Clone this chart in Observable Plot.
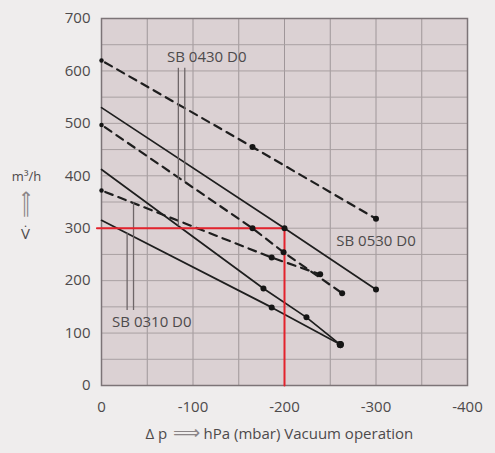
<!DOCTYPE html>
<html><head><meta charset="utf-8">
<script src="https://cdn.jsdelivr.net/npm/d3@7"></script>
<script src="https://cdn.jsdelivr.net/npm/@observablehq/plot@0.6"></script>
<style>html,body{margin:0;padding:0;background:#efeded;}</style>
</head><body><div id="chart"></div>
<script>
// tick labels
const xTicks = [0, -100, -200, -300, -400];
const yTicks = [0, 100, 200, 300, 400, 500, 600, 700];

// SB 0530 D0
const dp530dash = [0, -165, -300];
const q530dash  = [620, 455, 318];
const dp530     = [0, -200, -300];
const q530      = [530, 300, 183];
// SB 0430 D0
const dp430dash = [0, -165, -199, -263];
const q430dash  = [497, 300, 254, 176];
const dp430     = [0, -177, -224, -261];
const q430      = [412, 185, 130, 78];
// SB 0310 D0
const dp310dash = [0, -186, -239];
const q310dash  = [372, 244, 212];
const dp310     = [0, -186, -261];
const q310      = [315, 149, 78];

// operating point example
const opDp = -200;
const opQ = 300;

const models = ["SB 0530 D0", "SB 0430 D0", "SB 0310 D0"];
const labelDp = [-300, -115, -55];
const labelQ  = [275, 626, 120];

function toRows(model, dashed, dps, qs) {
  return dps.map((dp, i) => ({model, dashed, dp, q: qs[i], first: i === 0, last: i === dps.length - 1}));
}
const series = [
  toRows(models[0], true, dp530dash, q530dash),
  toRows(models[0], false, dp530, q530),
  toRows(models[1], true, dp430dash, q430dash),
  toRows(models[1], false, dp430, q430),
  toRows(models[2], true, dp310dash, q310dash),
  toRows(models[2], false, dp310, q310)
];
const dashedRows = series.filter(s => s[0].dashed);
const solidRows = series.filter(s => !s[0].dashed);
const dots = series.flat().filter(d => d.dashed || !d.first);

// leader lines for labels
const leaders = [
  {x: -84, y1: 605, y2: 304},
  {x: -91, y1: 605, y2: 388},
  {x: -28, y1: 143, y2: 290},
  {x: -35, y1: 143, y2: 348}
];

const textColor = "#4d4a4b";
const arrowColor = "#8a8486";
const marks = [
  Plot.frame({fill: "#dbd1d3"}),
  Plot.gridX(d3.range(0, -401, -50), {stroke: "#9f9699", strokeOpacity: 1}),
  Plot.gridY(d3.range(0, 701, 50), {stroke: "#a9a0a2", strokeOpacity: 1}),
  Plot.frame({stroke: "#7c7477", strokeWidth: 1.5}),
  Plot.axisX(xTicks, {tickSize: 0, tickPadding: 16, label: null, fontSize: 15, fill: textColor,
    tickFormat: d => d === 0 ? "0" : "-" + Math.abs(d)}),
  Plot.axisY(yTicks, {tickSize: 0, tickPadding: 11, label: null, fontSize: 15, fill: textColor}),
  ...dashedRows.map(rows => Plot.line(rows, {x: "dp", y: "q", stroke: "#1e1e1e", strokeWidth: 2.2, strokeDasharray: "8,6", strokeDashoffset: -4})),
  ...solidRows.map(rows => Plot.line(rows, {x: "dp", y: "q", stroke: "#1e1e1e", strokeWidth: 1.7})),
  Plot.ruleX(leaders, {x: "x", y1: "y1", y2: "y2", stroke: "#6e6668", strokeWidth: 1.3}),
  Plot.line([{x: 5, y: opQ}, {x: opDp, y: opQ}, {x: opDp, y: 0}], {x: "x", y: "y", stroke: "#e3232d", strokeWidth: 2}),
  Plot.dot(dots, {x: "dp", y: "q", fill: "#151515", stroke: "none",
    r: d => d.first ? 2 : (d.last && d.q < 100 ? 5 : 3.6)}),
  Plot.text(models, {x: (d, i) => labelDp[i], y: (d, i) => labelQ[i], text: d => d,
    fontSize: 15, fill: textColor}),
  Plot.text(["m³/h"], {frameAnchor: "left", textAnchor: "middle", dx: -75, dy: -25, fontSize: 13, fill: textColor}),
  Plot.text(["⟹"], {frameAnchor: "left", textAnchor: "middle", dx: -76, dy: 2, fontSize: 19, rotate: -90, fill: arrowColor, fontFamily: "DejaVu Sans"}),
  Plot.text(["V̇"], {frameAnchor: "left", textAnchor: "middle", dx: -76, dy: 32, fontSize: 15, fill: textColor}),
  Plot.text(["Δ p"], {frameAnchor: "bottom", textAnchor: "start", dx: -139, dy: 53, fontSize: 15, fill: textColor}),
  Plot.text(["⟹"], {frameAnchor: "bottom", textAnchor: "middle", dx: -98, dy: 53, fontSize: 19, fill: arrowColor, fontFamily: "DejaVu Sans"}),
  Plot.text(["hPa (mbar) Vacuum operation"], {frameAnchor: "bottom", textAnchor: "start", dx: -81, dy: 53, fontSize: 15, fill: textColor})
];

const chart = Plot.plot({
  width: 495, height: 453,
  marginLeft: 101, marginRight: 28, marginTop: 18, marginBottom: 68,
  x: {domain: [0, -400]},
  y: {domain: [0, 700]},
  style: {background: "#efeded", fontFamily: "Open Sans", fontSize: "15px", color: textColor, overflow: "visible"},
  marks
});
document.getElementById("chart").appendChild(chart);
</script>
</body></html>
